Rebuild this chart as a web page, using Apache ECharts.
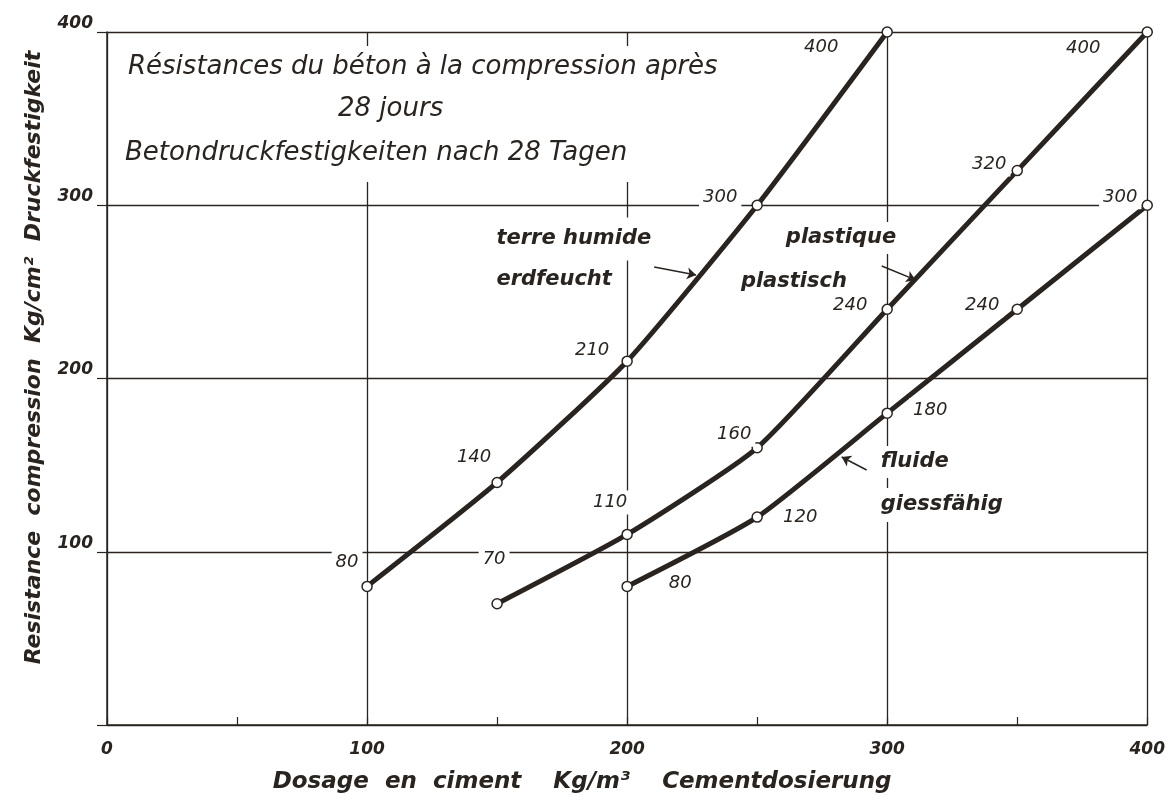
<!DOCTYPE html>
<html>
<head>
<meta charset="utf-8">
<script src="https://cdn.jsdelivr.net/npm/echarts@6/dist/echarts.min.js"></script>
<style>
	html, body { margin: 0; padding: 0; background: #fff; }
	#main { width: 1168px; height: 812px; }
</style>
</head>
<body>
<div id="main"></div>
<script>
// courbes : dosage (kg/m3) -> résistance (kg/cm2)
var terreX = [100, 150, 200, 250, 300];
var terreY = [80, 140, 210, 300, 400];
var plastX = [150, 200, 250, 300, 350, 400];
var plastY = [70, 110, 160, 240, 320, 400];
var fluideX = [200, 250, 300, 350, 400];
var fluideY = [80, 120, 180, 240, 300];

// décalage des étiquettes (px) autour des points
var terreOff = [[-20, -24], [-23, -25], [-35, -11], [-37, -8], [-66, 15]];
var plastOff = [[-3, -44], [-17, -32], [-23, -13], [-37, -4], [-28, -6], [-64, 16]];
var fluideOff = [[53, -3], [43, 0], [43, -3], [-35, -4], [-27, -8]];

var ink = '#2a2420';
var font = 'DejaVu Sans';

function points(xs, ys, offs) {
	return xs.map(function (x, i) {
		return { value: [x, ys[i]], label: { offset: offs[i] } };
	});
}

function note(text, coord, pad) {
	return {
		coord: coord,
		label: {
			show: true,
			formatter: text,
			position: 'inside',
			align: 'left',
			verticalAlign: 'middle',
			color: ink,
			fontFamily: font,
			fontStyle: 'italic',
			fontWeight: 'bold',
			fontSize: 21,
			backgroundColor: '#fff',
			padding: pad || [3, 4]
		}
	};
}

function arrow(from, to) {
	return [{ coord: from }, { coord: to }];
}

function curve(name, data, notes, arrows) {
	return {
		name: name,
		type: 'line',
		data: data,
		smooth: 0.18,
		symbol: 'circle',
		symbolSize: 10,
		lineStyle: { color: ink, width: 5 },
		itemStyle: { color: '#fff', borderColor: ink, borderWidth: 1.5 },
		label: {
			show: true,
			position: 'inside',
			align: 'center',
			verticalAlign: 'middle',
			formatter: function (p) { return p.value[1]; },
			color: ink,
			fontFamily: font,
			fontStyle: 'italic',
			fontSize: 18,
			backgroundColor: '#fff',
			padding: [3, 4]
		},
		z: 3,
		markPoint: {
			silent: true,
			symbol: 'circle',
			symbolSize: 1,
			itemStyle: { color: 'rgba(0,0,0,0)' },
			data: notes
		},
		markLine: {
			silent: true,
			symbol: ['none', 'arrow'],
			symbolSize: 9,
			lineStyle: { color: ink, width: 1.5, type: 'solid' },
			label: { show: false },
			data: arrows
		}
	};
}

var titleStyle = {
	color: ink,
	fontFamily: font,
	fontStyle: 'italic',
	fontWeight: 'normal',
	fontSize: 26,
	lineHeight: 30
};

var chart = echarts.init(document.getElementById('main'));
var option = {
	backgroundColor: '#fff',
	animation: false,
	title: [
		{ text: 'Résistances du béton à la compression après', left: 122, top: 46,
			backgroundColor: '#fff', padding: [6, 6, 12, 6], textStyle: titleStyle },
		{ text: '28 jours', left: 332, top: 88,
			backgroundColor: '#fff', padding: [6, 200, 12, 6], textStyle: titleStyle },
		{ text: 'Betondruckfestigkeiten nach 28 Tagen', left: 119, top: 130,
			backgroundColor: '#fff', padding: [8, 6, 14, 6], textStyle: titleStyle }
	],
	grid: {
		left: 107,
		right: 19,
		top: 32,
		bottom: 87
	},
	xAxis: {
		type: 'value',
		min: 0,
		max: 400,
		interval: 100,
		name: 'Dosage  en  ciment    Kg/m³    Cementdosierung',
		nameLocation: 'middle',
		nameGap: 46,
		nameTextStyle: {
			color: ink,
			fontFamily: font,
			fontStyle: 'italic',
			fontWeight: 'bold',
			fontSize: 23,
			padding: [0, 90, 0, 0]
		},
		axisLine: { show: true, lineStyle: { color: ink, width: 1.5 } },
		axisTick: { show: true, inside: true, length: 8, lineStyle: { color: ink, width: 1.2 } },
		minorTick: { show: true, splitNumber: 2, length: 8, lineStyle: { color: ink, width: 1.2 } },
		axisLabel: {
			color: ink,
			fontFamily: font,
			fontStyle: 'italic',
			fontWeight: 'bold',
			fontSize: 17,
			margin: 16
		},
		splitLine: { show: true, lineStyle: { color: ink, width: 1.3 } }
	},
	yAxis: {
		type: 'value',
		min: 0,
		max: 400,
		interval: 100,
		name: 'Resistance  compression  Kg/cm²  Druckfestigkeit',
		nameLocation: 'middle',
		nameGap: 62,
		nameTextStyle: {
			color: ink,
			fontFamily: font,
			fontStyle: 'italic',
			fontWeight: 'bold',
			fontSize: 22,
			padding: [0, 0, 0, 42]
		},
		axisLine: { show: true, lineStyle: { color: ink, width: 1.5 } },
		axisTick: { show: true, inside: false, length: 10, lineStyle: { color: ink, width: 1.2 } },
		axisLabel: {
			color: ink,
			fontFamily: font,
			fontStyle: 'italic',
			fontWeight: 'bold',
			fontSize: 17,
			margin: 14,
			verticalAlign: 'bottom',
			formatter: function (v) { return v === 0 ? '' : v; }
		},
		splitLine: { show: true, lineStyle: { color: ink, width: 1.3 } }
	},
	series: [
		curve('terre humide', points(terreX, terreY, terreOff),
			[note('terre humide', [148.2, 280.5], [10, 4, 12, 4]), note('erdfeucht', [148.2, 256.9])],
			[arrow([210.4, 264.4], [226.5, 259.7])]),
		curve('plastique', points(plastX, plastY, plastOff),
			[note('plastique', [259.5, 281.1], [3, 4, 8, 4]), note('plastisch', [242.2, 255.7])],
			[arrow([297.9, 264.9], [310.9, 256.9])]),
		curve('fluide', points(fluideX, fluideY, fluideOff),
			[note('fluide', [296.0, 151.8], [3, 4, 8, 4]), note('giessfähig', [296.0, 127.0], [3, 4, 10, 4])],
			[arrow([292.1, 147.2], [282.5, 154.7])])
	]
};
chart.setOption(option);
</script>
</body>
</html>
